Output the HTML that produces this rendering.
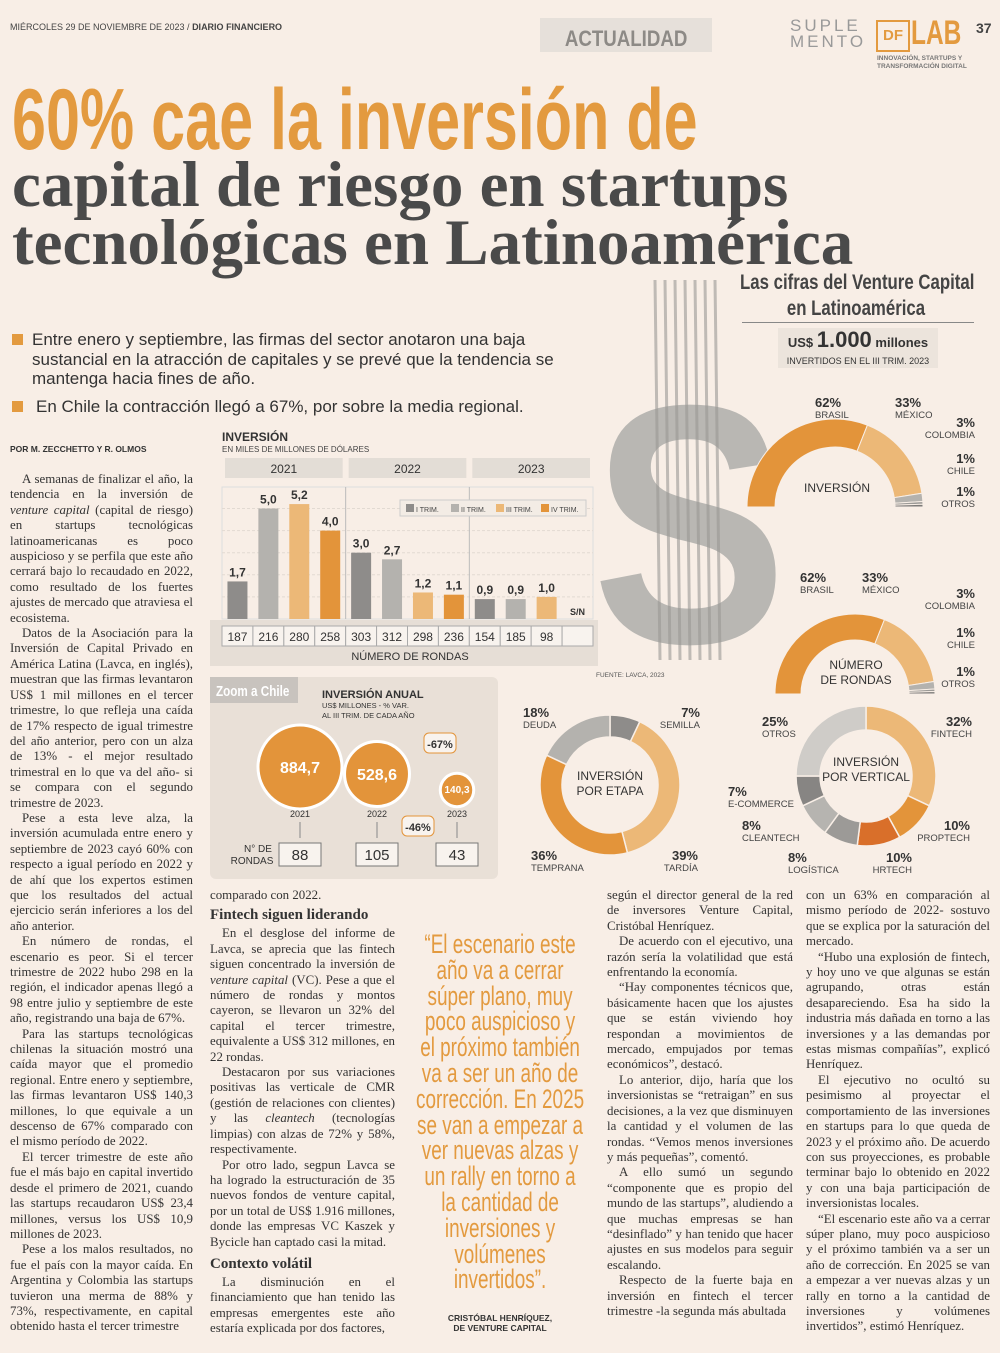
<!DOCTYPE html>
<html><head><meta charset="utf-8">
<style>
body{margin:0;background:#f8eee6;}
#page{position:relative;width:1000px;height:1353px;overflow:hidden;background:#f8eee6;font-family:"Liberation Serif",serif;color:#333;}
.abs{position:absolute;}
.col{position:absolute;font-family:"Liberation Serif",serif;font-size:12.9px;line-height:15.4px;text-align:justify;color:#333;hyphens:auto;}
.col p{margin:0;text-indent:12px;}
.col h3{margin:4px 0 2px;font-size:15px;line-height:17px;font-weight:bold;}
.narrow{font-family:"Liberation Sans",sans-serif;transform-origin:0 0;}
svg text{font-family:"Liberation Sans",sans-serif;}
</style></head>
<body>
<div id="page">
<div class="abs" style="left:10px;top:22px;font:9px 'Liberation Sans',sans-serif;color:#444;">MIÉRCOLES 29 DE NOVIEMBRE DE 2023 / <b>DIARIO FINANCIERO</b></div>
<div class="abs" style="left:540px;top:18px;width:172px;height:34px;background:#e6e0da;text-align:center;font:bold 22px 'Liberation Sans',sans-serif;color:#8d8a86;line-height:42px;"><span style="display:inline-block;transform:scaleX(0.85);">ACTUALIDAD</span></div>
<div class="abs" style="left:790px;top:18px;font:17px 'Liberation Sans',sans-serif;color:#999;letter-spacing:3px;line-height:16px;">SUPLE<br>MENTO</div>
<div class="abs" style="left:876px;top:20px;width:30px;height:28px;border:2px solid #e39a3f;color:#e39a3f;font:bold 15px 'Liberation Sans',sans-serif;text-align:center;line-height:28px;">DF</div>
<div class="abs" style="left:911px;top:14px;font:bold 34px 'Liberation Sans',sans-serif;color:#e39a3f;transform:scaleX(0.72);transform-origin:0 0;">LAB</div>
<div class="abs" style="left:877px;top:55px;font:bold 6.5px 'Liberation Sans',sans-serif;color:#777;line-height:8px;">INNOVACIÓN, STARTUPS Y<br>TRANSFORMACIÓN DIGITAL</div>
<div class="abs" style="left:976px;top:20px;font:bold 14px 'Liberation Sans',sans-serif;color:#444;">37</div>

<div class="abs narrow" style="left:12px;top:74px;font-size:86px;font-weight:bold;color:#e39a3f;line-height:92px;white-space:nowrap;transform:scaleX(0.71);">60% cae la inversión de</div>
<div class="abs" style="left:12px;top:150px;font:bold 65px 'Liberation Serif',serif;color:#4a4a4a;line-height:70px;white-space:nowrap;">capital de riesgo en startups</div>
<div class="abs" style="left:12px;top:208px;font:bold 65px 'Liberation Serif',serif;color:#4a4a4a;line-height:70px;white-space:nowrap;">tecnológicas en Latinoamérica</div>

<div class="abs" style="left:12px;top:330px;width:560px;font:17px 'Liberation Sans',sans-serif;color:#333;line-height:19.5px;">
<div style="padding-left:20px;position:relative;"><span style="position:absolute;left:0;top:4px;width:11px;height:11px;background:#e39a3f;"></span>Entre enero y septiembre, las firmas del sector anotaron una baja sustancial en la atracción de capitales y se prevé que la tendencia se mantenga hacia fines de año.</div>
<div style="padding-left:24px;position:relative;margin-top:8px;"><span style="position:absolute;left:0;top:4px;width:11px;height:11px;background:#e39a3f;"></span>En Chile la contracción llegó a 67%, por sobre la media regional.</div>
</div>

<div class="abs narrow" style="left:740px;top:270px;width:290px;text-align:center;font-size:21px;font-weight:bold;color:#444;line-height:26px;transform:scaleX(0.8);white-space:nowrap;">Las cifras del Venture Capital<br>en Latinoamérica</div>
<div class="abs" style="left:742px;top:322px;width:232px;border-top:1px solid #888;"></div>
<div class="abs" style="left:778px;top:328px;width:160px;height:40px;background:#ece4dc;text-align:center;font-family:'Liberation Sans',sans-serif;color:#333;">
<div style="font-size:13px;line-height:24px;"><b>US$ <span style="font-size:22px;">1.000</span> millones</b></div>
<div style="font-size:9px;line-height:12px;">INVERTIDOS EN EL III TRIM. 2023</div></div>

<svg id="g" class="abs" style="left:0;top:0" width="1000" height="1353"></svg>

<div class="col" style="left:10px;top:444px;font:bold 8.5px 'Liberation Sans',sans-serif;">POR M. ZECCHETTO Y R. OLMOS</div>
<div class="col" style="left:10px;top:472px;width:183px;">
<p>A semanas de finalizar el año, la tendencia en la inversión de <i>venture capital</i> (capital de riesgo) en startups tecnológicas latinoamericanas es poco auspicioso y se perfila que este año cerrará bajo lo recaudado en 2022, como resultado de los fuertes ajustes de mercado que atraviesa el ecosistema.</p>
<p>Datos de la Asociación para la Inversión de Capital Privado en América Latina (Lavca, en inglés), muestran que las firmas levantaron US$ 1 mil millones en el tercer trimestre, lo que refleja una caída de 17% respecto de igual trimestre del año anterior, pero con un alza de 13% - el mejor resultado trimestral en lo que va del año- si se compara con el segundo trimestre de 2023.</p>
<p>Pese a esta leve alza, la inversión acumulada entre enero y septiembre de 2023 cayó 60% con respecto a igual período en 2022 y de ahí que los expertos estimen que los resultados del actual ejercicio serán inferiores a los del año anterior.</p>
<p>En número de rondas, el escenario es peor. Si el tercer trimestre de 2022 hubo 298 en la región, el indicador apenas llegó a 98 entre julio y septiembre de este año, registrando una baja de 67%.</p>
<p>Para las startups tecnológicas chilenas la situación mostró una caída mayor que el promedio regional. Entre enero y septiembre, las firmas levantaron US$ 140,3 millones, lo que equivale a un descenso de 67% comparado con el mismo período de 2022.</p>
<p>El tercer trimestre de este año fue el más bajo en capital invertido desde el primero de 2021, cuando las startups recaudaron US$ 23,4 millones, versus los US$ 10,9 millones de 2023.</p>
<p>Pese a los malos resultados, no fue el país con la mayor caída. En Argentina y Colombia las startups tuvieron una merma de 88% y 73%, respectivamente, en capital obtenido hasta el tercer trimestre</p>
</div>
<div class="col" style="left:210px;top:888px;width:185px;">
<div>comparado con 2022.</div>
<h3>Fintech siguen liderando</h3>
<p>En el desglose del informe de Lavca, se aprecia que las fintech siguen concentrado la inversión de <i>venture capital</i> (VC). Pese a que el número de rondas y montos cayeron, se llevaron un 32% del capital el tercer trimestre, equivalente a US$ 312 millones, en 22 rondas.</p>
<p>Destacaron por sus variaciones positivas las verticale de CMR (gestión de relaciones con clientes) y las <i>cleantech</i> (tecnologías limpias) con alzas de 72% y 58%, respectivamente.</p>
<p>Por otro lado, segpun Lavca se ha logrado la estructuración de 35 nuevos fondos de venture capital, por un total de US$ 1.916 millones, donde las empresas VC Kaszek y Bycicle han captado casi la mitad.</p>
<h3 style="margin-top:6px;">Contexto volátil</h3>
<p>La disminución en el financiamiento que han tenido las empresas emergentes este año estaría explicada por dos factores,</p>
</div>
<div class="abs narrow" style="left:415px;top:932px;width:243px;text-align:center;font-size:27px;line-height:25.8px;color:#e39a3f;transform:scaleX(0.7);">“El escenario este año va a cerrar súper plano, muy poco auspicioso y el próximo también va a ser un año de corrección. En 2025 se van a empezar a ver nuevas alzas y un rally en torno a la cantidad de inversiones y volúmenes invertidos”.</div>
<div class="abs" style="left:420px;top:1313px;width:160px;text-align:center;font:bold 8.5px 'Liberation Sans',sans-serif;color:#333;line-height:10px;">CRISTÓBAL HENRÍQUEZ,<br>DE VENTURE CAPITAL</div>
<div class="col" style="left:607px;top:888px;width:186px;">
<div>según el director general de la red de inversores Venture Capital, Cristóbal Henríquez.</div>
<p>De acuerdo con el ejecutivo, una razón sería la volatilidad que está enfrentando la economía.</p>
<p>“Hay componentes técnicos que, básicamente hacen que los ajustes que se están viviendo hoy respondan a movimientos de mercado, empujados por temas económicos”, destacó.</p>
<p>Lo anterior, dijo, haría que los inversionistas se “retraigan” en sus decisiones, a la vez que disminuyen la cantidad y el volumen de las rondas. “Vemos menos inversiones y más pequeñas”, comentó.</p>
<p>A ello sumó un segundo “componente que es propio del mundo de las startups”, aludiendo a que muchas empresas se han “desinflado” y han tenido que hacer ajustes en sus modelos para seguir escalando.</p>
<p>Respecto de la fuerte baja en inversión en fintech el tercer trimestre -la segunda más abultada</p>
</div>
<div class="col" style="left:806px;top:888px;width:184px;">
<div>con un 63% en comparación al mismo período de 2022- sostuvo que se explica por la saturación del mercado.</div>
<p>“Hubo una explosión de fintech, y hoy uno ve que algunas se están agrupando, otras están desapareciendo. Esa ha sido la industria más dañada en torno a las inversiones y a las demandas por estas mismas compañías”, explicó Henríquez.</p>
<p>El ejecutivo no ocultó su pesimismo al proyectar el comportamiento de las inversiones en startups para lo que queda de 2023 y el próximo año. De acuerdo con sus proyecciones, es probable terminar bajo lo obtenido en 2022 y con una baja participación de inversionistas locales.</p>
<p>“El escenario este año va a cerrar súper plano, muy poco auspicioso y el próximo también va a ser un año de corrección. En 2025 se van a empezar a ver nuevas alzas y un rally en torno a la cantidad de inversiones y volúmenes invertidos”, estimó Henríquez.</p>
</div>
</div>

<script>
// ---- data ----
const barYears = ["2021","2022","2023"];
const barQuarters = ["I TRIM.","II TRIM.","III TRIM.","IV TRIM."];
const barValues = [1.7,5.0,5.2,4.0, 3.0,2.7,1.2,1.1, 0.9,0.9,1.0,null];
const barLabels = ["1,7","5,0","5,2","4,0","3,0","2,7","1,2","1,1","0,9","0,9","1,0","S/N"];
const roundValues = ["187","216","280","258","303","312","298","236","154","185","98",""];
const chileYears = ["2021","2022","2023"];
const chileInvest = [884.7, 528.6, 140.3];
const chileRounds = [88, 105, 43];
const countryNames = ["BRASIL","MÉXICO","COLOMBIA","CHILE","OTROS"];
const countryInvest = [62,33,3,1,1];
const countryRounds = [62,33,3,1,1];
const stageNames = ["SEMILLA","TARDÍA","TEMPRANA","DEUDA"];
const stageValues = [7,39,36,18];
const verticalNames = ["FINTECH","PROPTECH","HRTECH","LOGÍSTICA","CLEANTECH","E-COMMERCE","OTROS"];
const verticalValues = [32,10,10,8,8,7,25];

const NS="http://www.w3.org/2000/svg";
const g=document.getElementById('g');
function el(tag,attrs,parent){const e=document.createElementNS(NS,tag);for(const k in attrs)e.setAttribute(k,attrs[k]);(parent||g).appendChild(e);return e;}
function txt(x,y,s,size,fill,anchor,weight,parent){const t=el('text',{x:x,y:y,'font-size':size,fill:fill||'#333','text-anchor':anchor||'start','font-weight':weight||'normal'},parent);t.textContent=s;return t;}
const OR='#e3943a',LO='#ecb877',DG='#8e8c8a',LG='#b4b2ae';
const qColors=[DG,LG,LO,OR];

// big S
let bigS=txt(0,0,'S',340,'#b9b7b3','start','bold');
bigS.setAttribute('transform','translate(592,642) scale(0.86,1)');


for(let i=0;i<7;i++){const l=el('line',{x1:655+i*10,y1:280,x2:660+i*10,y2:660,stroke:'#9a9895','stroke-width':3,opacity:0.6});

}

// ---- bar chart ----
const bx0=222,bx1=593,by0=487,base=619,ppu=22.1;
const colW=(bx1-bx0)/12;
const yv=v=>base-v*ppu;
const bxc=i=>bx0+colW*(i+0.5);
txt(222,441,'INVERSIÓN',12,'#333','start','bold');
txt(222,452,'EN MILES DE MILLONES DE DÓLARES',8,'#444');
el('rect',{x:bx0,y:by0,width:bx1-bx0,height:base-by0,fill:'none',stroke:'#ddd'});
for(let k=1;k<6;k++)el('line',{x1:bx0,x2:bx1,y1:yv(k),y2:yv(k),stroke:'#e2dad2','stroke-dasharray':'3,2'});
barYears.forEach((y,i)=>{const x=bx0+i*colW*4;
const r=el('rect',{x:x+3,y:458,width:colW*4-6,height:20,fill:'#e3ddd6'});


txt(x+colW*2,473,y,12,'#333','middle');
if(i>0)el('line',{x1:x,x2:x,y1:by0,y2:base,stroke:'#bbb'});});
barValues.forEach((v,i)=>{if(v==null){txt(bxc(i),615,barLabels[i],9,'#333','middle','bold');return;}
const r=el('rect',{x:bxc(i)-10,y:yv(v),width:20,height:v*ppu,fill:qColors[i%4]});


txt(bxc(i),yv(v)-5,barLabels[i],12,'#333','middle','bold');});
el('rect',{x:210,y:620,width:388,height:46,fill:'#e6ded6'});
roundValues.forEach((v,i)=>{const r=el('rect',{x:bx0+i*colW,y:626,width:colW,height:20,fill:'#f8f3ee',stroke:'#aaa'});


txt(bxc(i),641,v,12,'#333','middle');});
txt(410,660,'NÚMERO DE RONDAS',11,'#333','middle');
// legend
el('rect',{x:400,y:500,width:186,height:16,fill:'#f3ece5',stroke:'#ccc'});
barQuarters.forEach((q,i)=>{const x=406+i*45;const r=el('rect',{x:x,y:504,width:8,height:8,fill:qColors[i]});


txt(x+10,512,q,7,'#444');});
txt(596,677,'FUENTE: LAVCA, 2023',6.5,'#555');

// ---- Zoom a Chile ----
el('rect',{x:210,y:677,width:288,height:202,rx:6,fill:'#e9e0d7'});
el('rect',{x:210,y:677,width:88,height:26,fill:'#c8c3be'});
let zt=txt(0,0,'Zoom a Chile',15,'#fff','start','bold');
zt.setAttribute('transform','translate(216,696) scale(0.78,1)');
txt(322,698,'INVERSIÓN ANUAL',11,'#333','start','bold');
txt(322,708,'US$ MILLONES - % VAR.',7.5,'#333');
txt(322,718,'AL III TRIM. DE CADA AÑO',7.5,'#333');
const cx=[300,377,457],cy=[767,774,790];
const rScale=v=>Math.sqrt(v/884.7)*42;
chileInvest.forEach((v,i)=>{const c=el('circle',{cx:cx[i],cy:cy[i],r:rScale(v),fill:OR,stroke:'#fff','stroke-width':3});


txt(cx[i],cy[i]+6-(i==2?3:0),v.toFixed(1).replace('.',','),i==2?10:16,'#fff','middle','bold');
txt(cx[i],817,chileYears[i],9,'#333','middle');
el('line',{x1:cx[i],x2:cx[i],y1:822,y2:838,stroke:'#888'});
const b=el('rect',{x:cx[i]-21,y:843,width:42,height:23,fill:'#f8f3ee',stroke:'#777'});


txt(cx[i],860,String(chileRounds[i]),15,'#333','middle');});
txt(258,852,'N° DE',10,'#333','middle');txt(252,864,'RONDAS',10,'#333','middle');
el('rect',{x:424,y:733,width:32,height:20,rx:5,fill:'#f8f3ee',stroke:'#e3943a'});
txt(440,748,'-67%',11,'#333','middle','bold');
el('rect',{x:402,y:816,width:32,height:20,rx:5,fill:'#f8f3ee',stroke:'#e3943a'});
txt(418,831,'-46%',11,'#333','middle','bold');

// ---- donuts ----
function arc(cx,cy,R,r,a0,a1){const p=(a,rad)=>[cx+rad*Math.cos(a),cy+rad*Math.sin(a)];const lg=(a1-a0)>Math.PI?1:0;
const [x0,y0]=p(a0,R),[x1,y1]=p(a1,R),[x2,y2]=p(a1,r),[x3,y3]=p(a0,r);
return `M${x0},${y0}A${R},${R} 0 ${lg} 1 ${x1},${y1}L${x2},${y2}A${r},${r} 0 ${lg} 0 ${x3},${y3}Z`;}
function semi(cx,cy,R,r,vals,cols,name){const tot=vals.reduce((a,b)=>a+b,0);let c=0;
vals.forEach((v,i)=>{const a0=Math.PI+c/tot*Math.PI;c+=v;const a1=Math.PI+c/tot*Math.PI;
const p=el('path',{d:arc(cx,cy,R,r,a0,a1),fill:cols[i],stroke:'#f8eee6','stroke-width':1});

});}
const cCols=[OR,LO,LG,'#9c9a97','#7d7b79'];
semi(835,507,88,60,countryInvest,cCols,'investment-slice');
semi(855,694,80,54,countryRounds,cCols,'rounds-slice');
txt(837,492,'INVERSIÓN',12,'#333','middle');
txt(856,669,'NÚMERO',12,'#333','middle');txt(856,684,'DE RONDAS',12,'#333','middle');
function lbl(x,y,pct,name,anchor){txt(x,y,pct+'%',13,'#333',anchor,'bold');txt(x,y+11,name,9.5,'#444',anchor);}
lbl(815,407,countryInvest[0],countryNames[0],'start');lbl(895,407,countryInvest[1],countryNames[1],'start');
lbl(975,427,countryInvest[2],countryNames[2],'end');lbl(975,463,countryInvest[3],countryNames[3],'end');lbl(975,496,countryInvest[4],countryNames[4],'end');
lbl(800,582,countryRounds[0],countryNames[0],'start');lbl(862,582,countryRounds[1],countryNames[1],'start');
lbl(975,598,countryRounds[2],countryNames[2],'end');lbl(975,637,countryRounds[3],countryNames[3],'end');lbl(975,676,countryRounds[4],countryNames[4],'end');

function donut(cx,cy,R,r,vals,cols,names,name){const tot=vals.reduce((a,b)=>a+b,0);let c=0;
vals.forEach((v,i)=>{const a0=-Math.PI/2+c/tot*2*Math.PI;c+=v;const a1=-Math.PI/2+c/tot*2*Math.PI;
const p=el('path',{d:arc(cx,cy,R,r,a0,a1),fill:cols[i],stroke:'#f8eee6','stroke-width':1.5});

});}
donut(610,785,70,48,stageValues,['#8e8c8a',LO,OR,LG],stageNames,'stage-slice');
txt(610,780,'INVERSIÓN',12,'#333','middle');txt(610,795,'POR ETAPA',12,'#333','middle');
lbl(700,717,stageValues[0],stageNames[0],'end');lbl(698,860,stageValues[1],stageNames[1],'end');
lbl(531,860,stageValues[2],stageNames[2],'start');lbl(523,717,stageValues[3],stageNames[3],'start');
donut(866,776,70,46,verticalValues,[LO,OR,'#d96f2a','#9c9a97','#b6b4b0','#878583','#cfccc8'],verticalNames,'vertical-slice');
txt(866,766,'INVERSIÓN',12,'#333','middle');txt(866,781,'POR VERTICAL',12,'#333','middle');
lbl(972,726,verticalValues[0],verticalNames[0],'end');lbl(970,830,verticalValues[1],verticalNames[1],'end');
lbl(912,862,verticalValues[2],verticalNames[2],'end');lbl(788,862,verticalValues[3],verticalNames[3],'start');
lbl(742,830,verticalValues[4],verticalNames[4],'start');lbl(728,796,verticalValues[5],verticalNames[5],'start');
lbl(762,726,verticalValues[6],verticalNames[6],'start');
</script>
</body></html>
